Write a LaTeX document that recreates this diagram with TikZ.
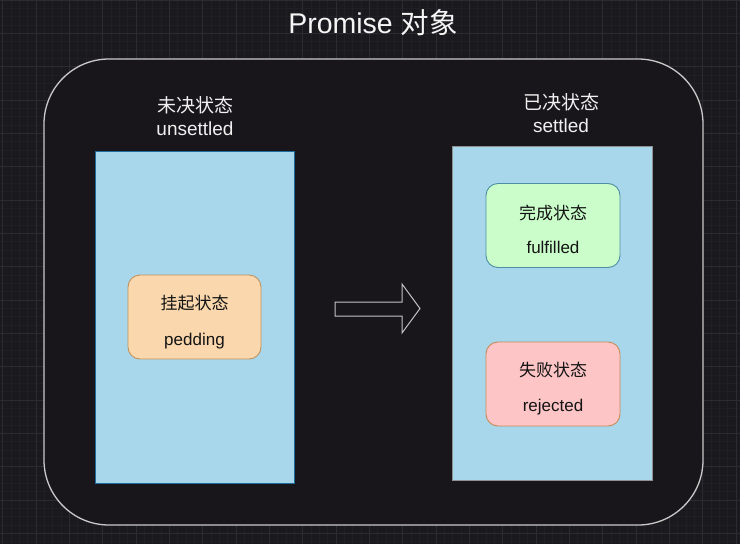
\documentclass[tikz,border=0pt]{standalone}
\usepackage{fontspec}
\setmainfont{Liberation Sans}
\newfontfamily\cjk{Noto Sans CJK SC}
\definecolor{bg}{HTML}{1A191E}
\definecolor{gridminor}{HTML}{211F25}
\definecolor{gridmajor}{HTML}{2C2B31}
\definecolor{outerfill}{HTML}{18161B}
\definecolor{outerline}{HTML}{C9C9C9}
\definecolor{panelfill}{HTML}{A8D6EA}
\definecolor{panelblue}{HTML}{1E6C9E}
\definecolor{panelgray}{HTML}{8F9090}
\definecolor{peach}{HTML}{FAD7AC}
\definecolor{peachline}{HTML}{C2935F}
\definecolor{mint}{HTML}{CAFDCA}
\definecolor{mintline}{HTML}{4D8FA5}
\definecolor{pink}{HTML}{FEC5C6}
\definecolor{pinkline}{HTML}{C88C58}
\definecolor{arrowline}{HTML}{C4C4C4}
\begin{document}
\begin{tikzpicture}[x=1pt,y=-1pt,
  minorline/.style={gridminor,line width=0.8pt},
  majorline/.style={gridmajor,line width=0.9pt},
  panel/.style={draw,fill=panelfill,line width=1pt,rectangle,inner sep=0pt},
  statebox/.style={draw,rounded corners=12pt,line width=0.9pt,inner sep=0pt,minimum width=134pt,minimum height=84pt},
  whitetext/.style={text=white!94!black,font=\fontsize{19}{23}\selectfont,inner sep=0pt,align=center},
  boxtext/.style={text=black!92,font=\fontsize{17}{20}\selectfont,inner sep=0pt,text height=0.75em,text depth=0.25em},
  blockarrow/.style={draw=arrowline,line width=1pt,line join=miter}
]
\useasboundingbox (0,0) rectangle (740,544);
\fill[bg] (0,0) rectangle (740,544);
% grid
\foreach \i in {0,...,89} {
  \draw[minorline] ({2.7+\i*8.3333},0) -- ({2.7+\i*8.3333},544);
}
\foreach \i in {0,...,66} {
  \draw[minorline] (0,{\i*8.3333}) -- (740,{\i*8.3333});
}
\foreach \i in {0,...,22} {
  \draw[majorline] ({2.7+\i*33.3333},0) -- ({2.7+\i*33.3333},544);
}
\foreach \i in {0,...,16} {
  \draw[majorline] (0,{\i*33.3333}) -- (740,{\i*33.3333});
}
% title
\node[text=white!96!black,font=\fontsize{28.5}{32}\selectfont,inner sep=0pt,text height=0.75em,text depth=0.25em] (title) at (373,31) {Promise {\cjk 对象}};
% outer container
\draw[outerline,fill=outerfill,line width=1.3pt,rounded corners=65pt] (44,59) rectangle (703,525);
% panel labels
\node[whitetext] (lefthead) at (195,116) {{\cjk 未决状态}\\unsettled};
\node[whitetext] (righthead) at (561,113) {{\cjk 已决状态}\\settled};
% panels
\node[panel,draw=panelblue,minimum width=199pt,minimum height=332pt] (unsettled) at (194.5,317) {};
\node[panel,draw=panelgray,minimum width=200pt,minimum height=334pt] (settled) at (552.5,313) {};
% state boxes
\node[statebox,fill=peach,draw=peachline,minimum width=133pt,minimum height=84pt] (pending) at (194.5,317) {};
\node[boxtext] (pendingA) at (194.5,307) {\cjk 挂起状态};
\node[boxtext] (pendingB) at (194.5,343) {pedding};
\node[statebox,fill=mint,draw=mintline] (fulfilled) at (553,225.5) {};
\node[boxtext] (fulfilledA) at (553,217) {\cjk 完成状态};
\node[boxtext] (fulfilledB) at (553,251) {fulfilled};
\node[statebox,fill=pink,draw=pinkline] (rejected) at (553,384) {};
\node[boxtext] (rejectedA) at (553,374) {\cjk 失败状态};
\node[boxtext] (rejectedB) at (553,408.5) {rejected};
% block arrow
\draw[blockarrow] (335,302) -- (402,302) -- (402,284) -- (420,308.5) -- (402,333) -- (402,316) -- (335,316) -- cycle;
\end{tikzpicture}
\end{document}
